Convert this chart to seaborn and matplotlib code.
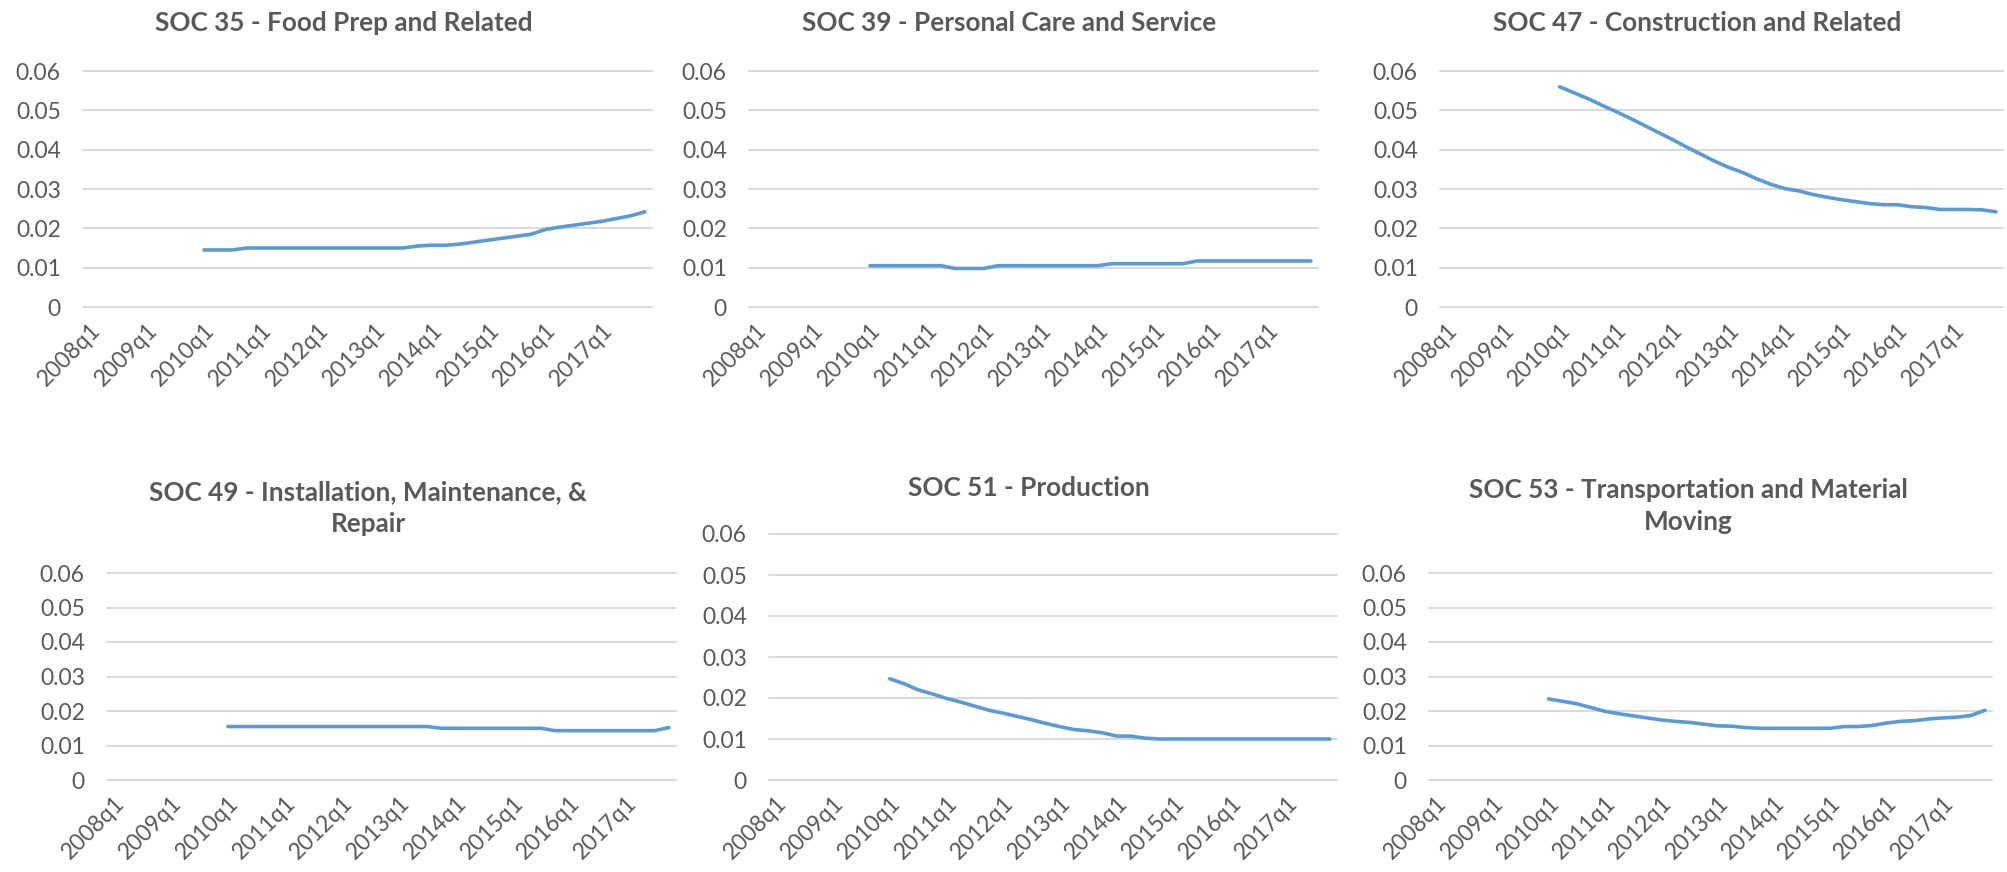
import numpy as np
import pandas as pd
import matplotlib
matplotlib.use("Agg")
import matplotlib.pyplot as plt
import seaborn as sns

# quarterly category axis, 2008q1 .. 2017q4
quarters = [f"{y}q{q}" for y in range(2008, 2018) for q in range(1, 5)]
first_obs = "2010q1"

titles = [
    "SOC 35 - Food Prep and Related",
    "SOC 39 - Personal Care and Service",
    "SOC 47 - Construction and Related",
    "SOC 49 - Installation, Maintenance, &\nRepair",
    "SOC 51 - Production",
    "SOC 53 - Transportation and Material\nMoving",
]

# values from 2010q1 to 2017q4
soc35 = [0.0145, 0.0145, 0.0145, 0.0150, 0.0150, 0.0150, 0.0150, 0.0150,
         0.0150, 0.0150, 0.0150, 0.0150, 0.0150, 0.0150, 0.0150, 0.0155,
         0.0157, 0.0157, 0.0160, 0.0165, 0.0170, 0.0175, 0.0180, 0.0185,
         0.0197, 0.0203, 0.0208, 0.0213, 0.0218, 0.0225, 0.0232, 0.0242]
soc39 = [0.0105, 0.0105, 0.0105, 0.0105, 0.0105, 0.0105, 0.0098, 0.0098,
         0.0098, 0.0105, 0.0105, 0.0105, 0.0105, 0.0105, 0.0105, 0.0105,
         0.0105, 0.0110, 0.0110, 0.0110, 0.0110, 0.0110, 0.0110, 0.0117,
         0.0117, 0.0117, 0.0117, 0.0117, 0.0117, 0.0117, 0.0117, 0.0117]
soc47 = [0.0560, 0.0545, 0.0530, 0.0513, 0.0497, 0.0480, 0.0462, 0.0444,
         0.0426, 0.0407, 0.0389, 0.0371, 0.0355, 0.0342, 0.0326, 0.0312,
         0.0301, 0.0295, 0.0286, 0.0279, 0.0273, 0.0268, 0.0263, 0.0260,
         0.0260, 0.0255, 0.0253, 0.0248, 0.0248, 0.0248, 0.0247, 0.0242]
soc49 = [0.0155, 0.0155, 0.0155, 0.0155, 0.0155, 0.0155, 0.0155, 0.0155,
         0.0155, 0.0155, 0.0155, 0.0155, 0.0155, 0.0155, 0.0155, 0.0150,
         0.0150, 0.0150, 0.0150, 0.0150, 0.0150, 0.0150, 0.0150, 0.0143,
         0.0143, 0.0143, 0.0143, 0.0143, 0.0143, 0.0143, 0.0143, 0.0152]
soc51 = [0.0247, 0.0235, 0.0220, 0.0210, 0.0199, 0.0190, 0.0180, 0.0170,
         0.0163, 0.0155, 0.0147, 0.0138, 0.0130, 0.0123, 0.0120, 0.0115,
         0.0107, 0.0107, 0.0102, 0.0100, 0.0100, 0.0100, 0.0100, 0.0100,
         0.0100, 0.0100, 0.0100, 0.0100, 0.0100, 0.0100, 0.0100, 0.0100]
soc53 = [0.0235, 0.0228, 0.0221, 0.0210, 0.0199, 0.0192, 0.0186, 0.0180,
         0.0174, 0.0170, 0.0167, 0.0162, 0.0157, 0.0156, 0.0152, 0.0150,
         0.0150, 0.0150, 0.0150, 0.0150, 0.0150, 0.0155, 0.0155, 0.0158,
         0.0165, 0.0170, 0.0172, 0.0177, 0.0180, 0.0182, 0.0187, 0.0202]
series = [soc35, soc39, soc47, soc49, soc51, soc53]

y_ticks = [0, 0.01, 0.02, 0.03, 0.04, 0.05, 0.06]
y_tick_labels = ["0", "0.01", "0.02", "0.03", "0.04", "0.05", "0.06"]

LINE = "#5B9BD5"
TEXT = "#595959"
GRID = "#D9D9D9"

sns.set_theme(style="white")
plt.rcParams['font.family'] = ['Lato', 'DejaVu Sans']

W, H = 2007, 872
fig = plt.figure(figsize=(W / 100, H / 100), dpi=100)

# plot areas in pixels: left, top, right, bottom
boxes = [(83, 71, 652, 307), (749, 71, 1318, 307), (1440, 71, 2003, 307),
         (107, 573, 676, 780), (769, 534, 1337, 780), (1429, 573, 1992, 780)]
# title centres in pixels
title_xy = [(344, 23), (1009, 23), (1697, 23), (368, 508), (1029, 488), (1688, 506)]

start = quarters.index(first_obs)
for title, vals, box, txy in zip(titles, series, boxes, title_xy):
    l, t, r, b = box
    ax = fig.add_axes([l / W, 1 - b / H, (r - l) / W, (b - t) / H])
    df = pd.DataFrame({"pos": np.arange(start, start + len(vals)), "rate": vals})
    sns.lineplot(data=df, x="pos", y="rate", ax=ax, color=LINE, linewidth=2.6)

    ax.set_xlim(-0.5, len(quarters) - 0.5)
    ax.set_ylim(0, 0.06)
    ax.set_yticks(y_ticks)
    ax.set_yticklabels(y_tick_labels)
    ax.set_xticks(range(0, len(quarters), 4))
    ax.set_xticklabels(quarters[::4], rotation=45, ha="right", rotation_mode="anchor")
    ax.tick_params(axis="both", length=0, labelsize=16.5, colors=TEXT)
    ax.tick_params(axis="y", pad=16)
    ax.tick_params(axis="x", pad=9)
    ax.set_xlabel("")
    ax.set_ylabel("")
    for s in ax.spines.values():
        s.set_visible(False)
    ax.yaxis.grid(True, color=GRID, linewidth=1.4)
    ax.xaxis.grid(False)
    ax.set_axisbelow(True)
    for gl in ax.get_ygridlines():
        gl.set_clip_on(False)

    fig.text(txy[0] / W, 1 - txy[1] / H, title, ha="center", va="center",
             fontsize=18.8, fontweight="bold", color=TEXT, linespacing=1.4)

fig.savefig("out.png", dpi=100)
